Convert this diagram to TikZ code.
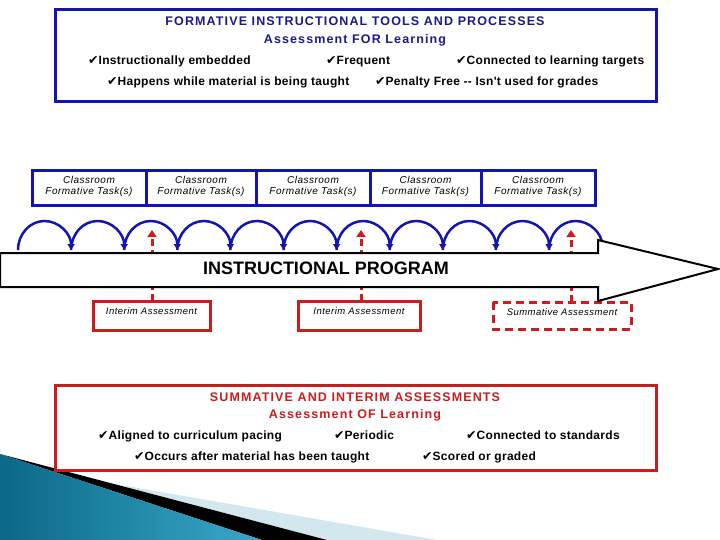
\documentclass[tikz,border=0pt]{standalone}
\usepackage{fontspec}
\setmainfont{Liberation Sans}
\newfontfamily\chkfont{DejaVu Sans}
\newfontfamily\widefont[LetterSpace=9]{Liberation Sans}
\newfontfamily\taskfont[LetterSpace=5]{Liberation Sans}
\newfontfamily\bulfont[LetterSpace=2.5]{Liberation Sans}
\usetikzlibrary{arrows.meta}
\definecolor{bblue}{HTML}{1414B0}
\definecolor{navy}{HTML}{1A1A8C}
\definecolor{rred}{HTML}{CC1C1C}
\definecolor{tealA}{HTML}{0B6886}
\definecolor{tealB}{HTML}{3AA8CA}
\definecolor{paleblue}{HTML}{D3E7EE}
\newcommand{\ckm}{{\chkfont\fontsize{12.5}{12}\selectfont ✔}}
\tikzset{
  bluebox/.style={draw=bblue, line width=3pt, fill=white},
  redbox/.style={draw=rred, line width=3pt, fill=white},
  reddash/.style={draw=rred, line width=3pt, fill=white, dash pattern=on 8pt off 5pt},
  titletext/.style={inner sep=0pt, anchor=base, font=\widefont\bfseries\fontsize{12.5}{14}\selectfont},
  bullet/.style={anchor=base west, inner sep=0pt, font=\bulfont\bfseries\fontsize{12}{14}\selectfont},
  tasktext/.style={inner sep=0pt, align=center, font=\taskfont\itshape\fontsize{10}{12}\selectfont},
  asstext/.style={inner sep=0pt, font=\taskfont\itshape\fontsize{9.5}{11}\selectfont},
  looparrow/.style={draw=bblue, line width=2.5pt, -{Triangle[width=7pt,length=6pt]}},
  upred/.style={draw=rred, line width=3pt, dash pattern=on 7pt off 4pt, -{Triangle[width=9pt,length=7pt]}}
}
\begin{document}
\begin{tikzpicture}[x=1pt,y=-1pt]
\useasboundingbox (0,0) rectangle (720,540);
% corner decoration
\fill[paleblue] (115,484) -- (437,540) -- (327,540) -- cycle;
\fill[black] (0,454) -- (327,540) -- (262,540) -- cycle;
\shade[left color=tealA, right color=tealB] (0,454) -- (262,540) -- (0,540) -- cycle;

% top formative box
\draw[bluebox] (55,10) rectangle (656,102);
\node[titletext, text=navy] (ft1) at (355,25.5) {FORMATIVE INSTRUCTIONAL TOOLS AND PROCESSES};
\node[titletext, text=navy] (ft2) at (355,43.5) {Assessment FOR Learning};
\node[bullet] (fb1) at (88,64.5) {\ckm Instructionally embedded};
\node[bullet] (fb2) at (326,64.5) {\ckm Frequent};
\node[bullet] (fb3) at (456,64.5) {\ckm Connected to learning targets};
\node[bullet] (fb4) at (107,85.5) {\ckm Happens while material is being taught};
\node[bullet] (fb5) at (375,85.5) {\ckm Penalty Free -- Isn't used for grades};

% classroom formative tasks
\foreach \i/\xa/\xb in {1/32/146, 2/146/256, 3/256/370, 4/370/481, 5/481/595}{
  \draw[bluebox] (\xa,171) rectangle (\xb,206);
  \node[tasktext] (task\i) at ({(\xa+\xb)/2},186.5) {Classroom\\[-0.5pt]Formative Task(s)};
}

% loop arcs
\foreach \k in {0,...,10}{
  \coordinate (ls\k) at ({18+53.1*\k},250);
  \draw[looparrow] (ls\k) arc[start angle=180, end angle=0, x radius=26.55pt, y radius=29pt];
}

% assessment boxes
\draw[redbox] (93,301) rectangle (210,330);
\node[asstext] (ia1) at (151.5,311) {Interim Assessment};
\draw[redbox] (298,301) rectangle (420,330);
\node[asstext] (ia2) at (359,311) {Interim Assessment};
\draw[reddash] (493,302) rectangle (631,329);
\node[asstext] (sa) at (562,312) {Summative Assessment};

% red dashed upward arrows
\coordinate (r1b) at (152,301); \coordinate (r1t) at (152,230);
\coordinate (r2b) at (361,301); \coordinate (r2t) at (361,230);
\coordinate (r3b) at (571,302); \coordinate (r3t) at (571,230);
\draw[upred] (r1b) -- (r1t);
\draw[upred] (r2b) -- (r2t);
\draw[upred] (r3b) -- (r3t);

% instructional program arrow
\draw[fill=white, line width=2pt, line join=miter] (0,253) -- (598,253) -- (598,240) -- (718,269) -- (598,301) -- (598,287) -- (0,287) -- cycle;
\node[inner sep=0pt, font=\bfseries\fontsize{18}{20}\selectfont] (ip) at (326,268) {INSTRUCTIONAL PROGRAM};

% bottom summative box
\draw[redbox] (55,385) rectangle (656,470);
\node[titletext, text=rred] (st1) at (355,401.5) {SUMMATIVE AND INTERIM ASSESSMENTS};
\node[titletext, text=rred] (st2) at (355,418.5) {Assessment OF Learning};
\node[bullet] (sb1) at (98,439.5) {\ckm Aligned to curriculum pacing};
\node[bullet] (sb2) at (334,439.5) {\ckm Periodic};
\node[bullet] (sb3) at (466,439.5) {\ckm Connected to standards};
\node[bullet] (sb4) at (134,460.5) {\ckm Occurs after material has been taught};
\node[bullet] (sb5) at (422,460.5) {\ckm Scored or graded};
\end{tikzpicture}
\end{document}
